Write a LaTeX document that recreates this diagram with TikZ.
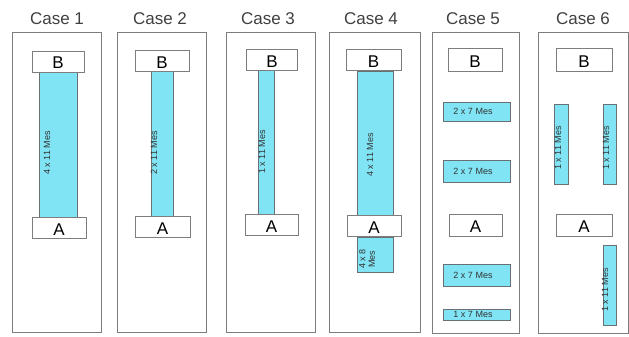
\documentclass[tikz,border=0pt]{standalone}
\usepackage{fontspec}
\setmainfont{Liberation Sans}
\definecolor{mescyan}{RGB}{128,228,244}
\definecolor{framegray}{RGB}{125,125,125}
\definecolor{edgegray}{RGB}{105,112,115}
\tikzset{
  panel/.style={draw=framegray, line width=0.8pt, inner sep=0pt,
    minimum width=89, minimum height=300},
  term/.style={draw=framegray, fill=white, line width=0.8pt, inner sep=0pt,
    minimum height=21, font=\fontsize{17}{17}\selectfont,
    text height=15pt, text depth=0pt},
  mes/.style={draw=edgegray, fill=mescyan, line width=0.8pt, inner sep=0pt},
  mestext/.style={font=\fontsize{9}{9.5}\selectfont, inner sep=0pt,
    text=black!80},
  title/.style={font=\fontsize{17}{17}\selectfont, text=black!75}
}

\begin{document}
\begin{tikzpicture}[x=1pt,y=-1pt]
    \useasboundingbox (0,0) rectangle (629,337);
    % panels and titles
    \node[panel] (p1) at (56.5,182) {};
    \node[panel] (p2) at (162,182) {};
    \node[panel] (p3) at (270.5,182) {};
    \node[panel, minimum width=91] (p4) at (374.5,182) {};
    \node[panel, minimum width=87, minimum height=301] (p5) at (475.5,182.5) {};
    \node[panel, minimum width=90, minimum height=301] (p6) at (583,182.5) {};
    \node[title] (c1) at (57,19) {Case 1};
    \node[title] (c2) at (160,19) {Case 2};
    \node[title] (c3) at (268,19) {Case 3};
    \node[title] (c4) at (371,19) {Case 4};
    \node[title] (c5) at (473,19) {Case 5};
    \node[title] (c6) at (583,19) {Case 6};

    % case 1
    \node[mes, minimum width=38, minimum height=146] (m1) at (58,144) {};
    \node[mestext, rotate=90] (t1) at (47,153) {4 x 11 Mes};
    \node[term, minimum width=52] (b1) at (58,61.5) {B};
    \node[term, minimum width=54] (a1) at (59,227.5) {A};

    % case 2
    \node[mes, minimum width=22, minimum height=149] (m2) at (162,141.5) {};
    \node[mestext, rotate=90] (t2) at (154,153) {2 x 11 Mes};
    \node[term, minimum width=54] (b2) at (162,60.5) {B};
    \node[term, minimum width=55] (a2) at (162.5,226.5) {A};

    % case 3
    \node[mes, minimum width=16, minimum height=148] (m3) at (266,141) {};
    \node[mestext, rotate=90] (t3) at (262,152) {1 x 11 Mes};
    \node[term, minimum width=51] (b3) at (272,60) {B};
    \node[term, minimum width=53] (a3) at (271.5,225) {A};

    % case 4
    \node[mes, minimum width=36, minimum height=144] (m4) at (375,143) {};
    \node[mestext, rotate=90] (t4) at (370,155) {4 x 11 Mes};
    \node[mes, minimum width=36, minimum height=35] (m4b) at (375,254.5) {};
    \node[mestext, rotate=90, align=center] (t4b) at (367,259)
      {4 x 8\\Mes};
    \node[term, minimum width=55] (b4) at (373.5,60) {B};
    \node[term, minimum width=54] (a4) at (374,226) {A};

    % case 5
    \node[term, minimum width=54, minimum height=23] (b5) at (475,59.5) {B};
    \node[mes, minimum width=67, minimum height=19] (m5a) at (476.5,111.5) {};
    \node[mestext] (t5a) at (473,111.5) {2 x 7 Mes};
    \node[mes, minimum width=67, minimum height=22] (m5b) at (476.5,171) {};
    \node[mestext] (t5b) at (473,171) {2 x 7 Mes};
    \node[term, minimum width=53, minimum height=22] (a5) at (475.5,225) {A};
    \node[mes, minimum width=67, minimum height=22] (m5c) at (476.5,275) {};
    \node[mestext] (t5c) at (473,275) {2 x 7 Mes};
    \node[mes, minimum width=67, minimum height=11] (m5d) at (476.5,314.5) {};
    \node[mestext] (t5d) at (473,314.5) {1 x 7 Mes};

    % case 6
    \node[term, minimum width=56, minimum height=23] (b6) at (584,59.5) {B};
    \node[mes, minimum width=14, minimum height=80] (m6a) at (561,144) {};
    \node[mestext, rotate=90] (t6a) at (558,148) {1 x 11 Mes};
    \node[mes, minimum width=13, minimum height=80] (m6b) at (609.5,144) {};
    \node[mestext, rotate=90] (t6b) at (606,148) {1 x 11 Mes};
    \node[term, minimum width=56, minimum height=22] (a6) at (584,225) {A};
    \node[mes, minimum width=13, minimum height=80] (m6c) at (609.5,285) {};
    \node[mestext, rotate=90] (t6c) at (605,290) {1 x 11 Mes};
  \end{tikzpicture}
\end{document}
